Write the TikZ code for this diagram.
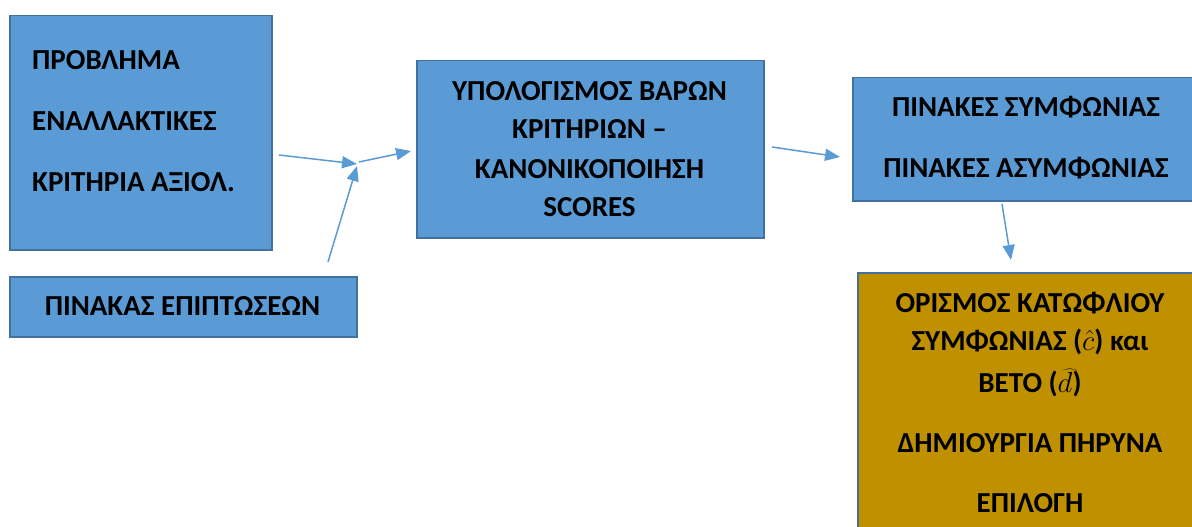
\documentclass[tikz,border=0pt]{standalone}
\usepackage{fix-cm}
\usepackage{fontspec}
\setmainfont{Carlito}
\usetikzlibrary{arrows.meta}
\definecolor{boxblue}{HTML}{5B9BD5}
\definecolor{edgeblue}{HTML}{41719C}
\definecolor{gold}{HTML}{BF9000}
\tikzset{
  box/.style={draw=edgeblue, line width=1.5pt, fill=boxblue, rectangle, inner sep=0pt},
  goldbox/.style={box, fill=gold},
  txt/.style={inner sep=0pt, anchor=base, font=\fontsize{29}{34}\selectfont\bfseries},
  txtl/.style={txt, anchor=base west},
  conn/.style={draw=boxblue, line width=1.5pt, -{Triangle[length=15pt,width=12pt]}}
}
\begin{document}
\begin{tikzpicture}[x=1pt,y=-1pt]
\useasboundingbox (0,0) rectangle (1192,527);
\begin{scope}
\clip (0,0) rectangle (1192,527);
% boxes
\node[box, minimum width=262pt, minimum height=234pt, anchor=north west] (b1) at (9,15) {};
\node[box, minimum width=347pt, minimum height=60pt, anchor=north west] (b2) at (9,276) {};
\node[box, minimum width=347pt, minimum height=177pt, anchor=north west] (b3) at (416,60) {};
\node[box, minimum width=350pt, minimum height=123pt, anchor=north west] (b4) at (852,77) {};
\node[goldbox, minimum width=346pt, minimum height=280pt, anchor=north west] (b5) at (857,272) {};
\end{scope}
% texts
\node[txtl] (t11) at (32,70) {ΠΡΟΒΛΗΜΑ};
\node[txtl] (t12) at (32,130) {ΕΝΑΛΛΑΚΤΙΚΕΣ};
\node[txtl] (t13) at (32,191) {ΚΡΙΤΗΡΙΑ ΑΞΙΟΛ.};
\node[txt] (t21) at (182.5,315) {ΠΙΝΑΚΑΣ ΕΠΙΠΤΩΣΕΩΝ};
\node[txt] (t31) at (589.5,100) {ΥΠΟΛΟΓΙΣΜΟΣ ΒΑΡΩΝ};
\node[txt] (t32) at (589.5,138) {ΚΡΙΤΗΡΙΩΝ –};
\node[txt] (t33) at (589.5,178) {ΚΑΝΟΝΙΚΟΠΟΙΗΣΗ};
\node[txt] (t34) at (589.5,216) {SCORES};
\node[txt] (t41) at (1026,116) {ΠΙΝΑΚΕΣ ΣΥΜΦΩΝΙΑΣ};
\node[txt] (t42) at (1026,177) {ΠΙΝΑΚΕΣ ΑΣΥΜΦΩΝΙΑΣ};
\node[txt] (t51) at (1030,312) {ΟΡΙΣΜΟΣ ΚΑΤΩΦΛΙΟΥ};
\node[txt] (t52) at (1030,350) {ΣΥΜΦΩΝΙΑΣ (\(\hat{c}\)) και};
\node[txt] (t53) at (1030,392) {ΒΕΤΟ (\(\widehat{d}\))};
\node[txt] (t54) at (1030,452) {ΔΗΜΙΟΥΡΓΙΑ ΠΗΡΥΝΑ};
\node[txt] (t55) at (1030,512) {ΕΠΙΛΟΓΗ};
% connector points
\coordinate (a1s) at (279,155);
\coordinate (j) at (357,164);
\coordinate (a2s) at (328,262);
\coordinate (j2) at (357,166);
\coordinate (a3s) at (359,162);
\coordinate (a3e) at (411,151);
\coordinate (a4s) at (772,147);
\coordinate (a4e) at (840,157);
\coordinate (a5s) at (1002,204);
\coordinate (a5e) at (1011,260);
\draw[conn] (a1s) -- (j);
\draw[conn] (a2s) -- (j2);
\draw[conn] (a3s) -- (a3e);
\draw[conn] (a4s) -- (a4e);
\draw[conn] (a5s) -- (a5e);
\end{tikzpicture}
\end{document}
